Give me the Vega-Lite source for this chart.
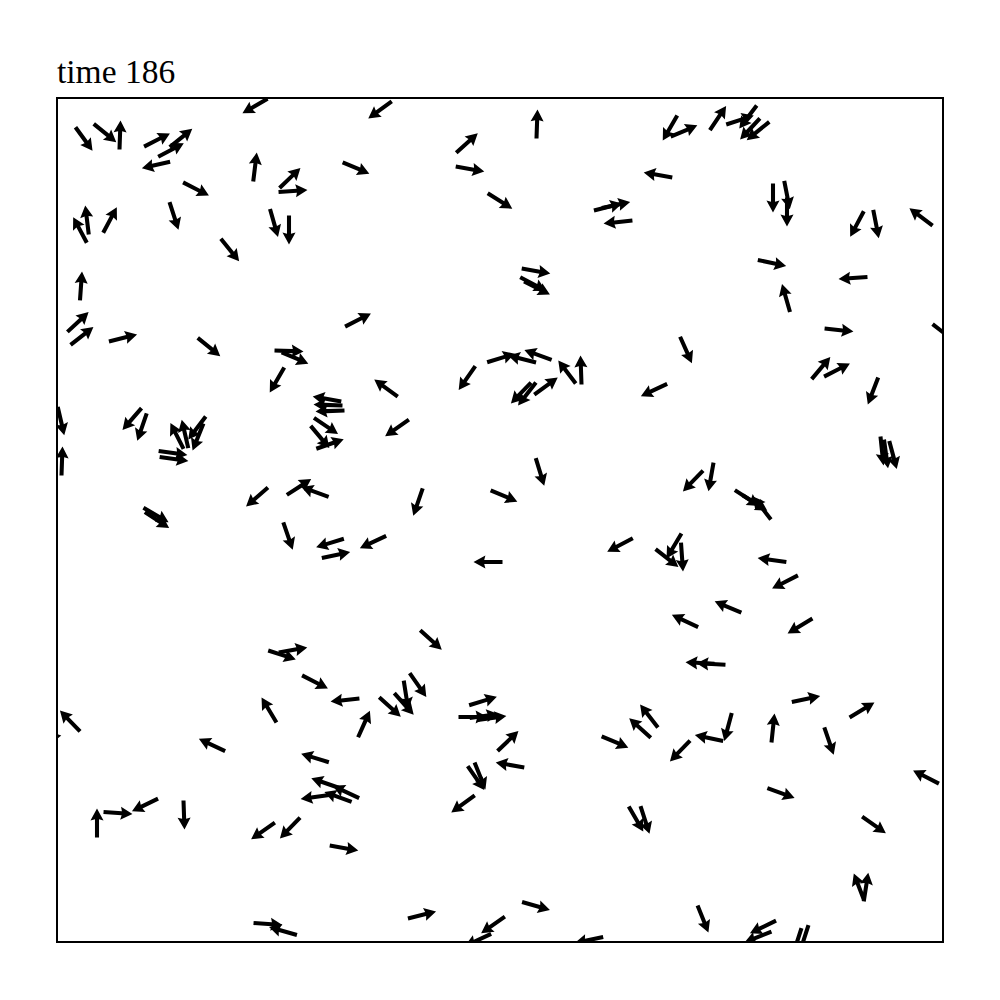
{
"$schema": "https://vega.github.io/schema/vega-lite/v6.json",
"width": 886, "height": 844,
"autosize": "none",
"padding": {"left": 57, "top": 98, "right": 57, "bottom": 58},
"background": "white",
"title": {"text": "time 186", "anchor": "start", "frame": "group", "font": "Liberation Serif", "fontSize": 33.5, "fontWeight": "normal", "color": "black", "baseline": "bottom", "offset": 7, "dy": 32},
"config": {"view": {"stroke": "black", "strokeWidth": 2}},
"data": {"values": [
{"x":198,"y":836,"angle":150},{"x":27,"y":803,"angle":54},{"x":48,"y":809,"angle":39},{"x":63,"y":807,"angle":-88},{"x":100,"y":802,"angle":-27},{"x":124,"y":804,"angle":-39},{"x":114,"y":792,"angle":-28},{"x":99,"y":777,"angle":167},{"x":198,"y":775,"angle":-83},{"x":139,"y":753,"angle":27},
{"x":117,"y":726,"angle":72},{"x":23,"y":712,"angle":-118},{"x":30,"y":722,"angle":-97},{"x":53,"y":722,"angle":-62},{"x":173,"y":692,"angle":51},{"x":217,"y":719,"angle":74},{"x":24,"y":656,"angle":-86},{"x":21,"y":620,"angle":-43},{"x":25,"y":606,"angle":-38},{"x":66,"y":604,"angle":-14},
{"x":152,"y":595,"angle":39},{"x":323,"y":832,"angle":144},{"x":410,"y":799,"angle":-42},{"x":299,"y":774,"angle":23},{"x":413,"y":773,"angle":10},{"x":443,"y":741,"angle":32},{"x":233,"y":764,"angle":-44},{"x":236,"y":751,"angle":-4},{"x":232,"y":712,"angle":90},{"x":301,"y":622,"angle":-27},
{"x":232,"y":591,"angle":2},{"x":238,"y":584,"angle":23},{"x":220,"y":562,"angle":120},{"x":410,"y":564,"angle":125},{"x":329,"y":554,"angle":-144},{"x":480,"y":818,"angle":-88},{"x":613,"y":814,"angle":120},{"x":627,"y":811,"angle":-23},{"x":661,"y":824,"angle":-56},{"x":601,"y":767,"angle":-170},
{"x":551,"y":735,"angle":-14},{"x":559,"y":737,"angle":-12},{"x":561,"y":720,"angle":174},{"x":479,"y":671,"angle":10},{"x":476,"y":658,"angle":28},{"x":480,"y":654,"angle":27},{"x":629,"y":592,"angle":66},{"x":444,"y":584,"angle":-17},{"x":465,"y":583,"angle":-166},{"x":481,"y":587,"angle":-160},
{"x":510,"y":570,"angle":-127},{"x":524,"y":572,"angle":-92},{"x":489,"y":556,"angle":-36},{"x":464,"y":549,"angle":134},{"x":470,"y":548,"angle":128},{"x":597,"y":552,"angle":155},{"x":683,"y":822,"angle":-18},{"x":691,"y":825,"angle":127},{"x":693,"y":813,"angle":133},{"x":701,"y":811,"angle":141},
{"x":716,"y":744,"angle":90},{"x":730,"y":747,"angle":79},{"x":730,"y":730,"angle":90},{"x":800,"y":718,"angle":118},{"x":819,"y":718,"angle":79},{"x":864,"y":725,"angle":-143},{"x":715,"y":679,"angle":12},{"x":796,"y":664,"angle":176},{"x":729,"y":644,"angle":-106},{"x":782,"y":612,"angle":6},
{"x":887,"y":609,"angle":38},{"x":764,"y":574,"angle":-50},{"x":780,"y":572,"angle":-27},{"x":816,"y":551,"angle":111},{"x":75,"y":523,"angle":131},{"x":85,"y":515,"angle":109},{"x":4,"y":521,"angle":77},{"x":5,"y":481,"angle":-88},{"x":140,"y":514,"angle":127},{"x":141,"y":505,"angle":112},
{"x":120,"y":506,"angle":-117},{"x":128,"y":508,"angle":-103},{"x":116,"y":489,"angle":8},{"x":117,"y":483,"angle":8},{"x":200,"y":445,"angle":139},{"x":99,"y":427,"angle":30},{"x":100,"y":422,"angle":33},{"x":231,"y":406,"angle":71},{"x":225,"y":287,"angle":18},{"x":236,"y":292,"angle":-10},
{"x":270,"y":543,"angle":-170},{"x":273,"y":531,"angle":178},{"x":271,"y":537,"angle":-178},{"x":269,"y":516,"angle":34},{"x":263,"y":505,"angle":50},{"x":273,"y":498,"angle":-19},{"x":340,"y":514,"angle":145},{"x":361,"y":440,"angle":109},{"x":242,"y":455,"angle":-33},{"x":258,"y":450,"angle":-160},
{"x":273,"y":399,"angle":163},{"x":279,"y":387,"angle":-12},{"x":316,"y":400,"angle":155},{"x":431,"y":380,"angle":180},{"x":447,"y":446,"angle":23},{"x":374,"y":302,"angle":42},{"x":483,"y":470,"angle":73},{"x":636,"y":461,"angle":134},{"x":654,"y":465,"angle":100},{"x":563,"y":397,"angle":152},
{"x":617,"y":396,"angle":121},{"x":610,"y":384,"angle":38},{"x":625,"y":385,"angle":86},{"x":628,"y":321,"angle":-155},{"x":671,"y":335,"angle":-157},{"x":643,"y":279,"angle":-177},{"x":654,"y":278,"angle":-177},{"x":825,"y":491,"angle":84},{"x":829,"y":488,"angle":82},{"x":836,"y":487,"angle":75},
{"x":690,"y":444,"angle":33},{"x":698,"y":439,"angle":32},{"x":705,"y":434,"angle":-128},{"x":715,"y":382,"angle":-172},{"x":728,"y":360,"angle":153},{"x":743,"y":316,"angle":149},{"x":13,"y":221,"angle":-134},{"x":-10,"y":204,"angle":-10},{"x":155,"y":197,"angle":-155},{"x":212,"y":232,"angle":-121},
{"x":40,"y":119,"angle":-90},{"x":61,"y":129,"angle":4},{"x":88,"y":137,"angle":154},{"x":127,"y":127,"angle":88},{"x":206,"y":111,"angle":145},{"x":233,"y":114,"angle":134},{"x":211,"y":18,"angle":4},{"x":226,"y":11,"angle":-164},{"x":258,"y":260,"angle":27},{"x":288,"y":242,"angle":174},
{"x":307,"y":218,"angle":-66},{"x":333,"y":235,"angle":42},{"x":347,"y":238,"angle":48},{"x":349,"y":247,"angle":81},{"x":361,"y":257,"angle":55},{"x":426,"y":241,"angle":-17},{"x":416,"y":225,"angle":0},{"x":427,"y":226,"angle":-8},{"x":435,"y":224,"angle":-8},{"x":451,"y":201,"angle":-44},
{"x":453,"y":177,"angle":-170},{"x":423,"y":166,"angle":68},{"x":419,"y":164,"angle":55},{"x":406,"y":138,"angle":144},{"x":258,"y":184,"angle":-163},{"x":281,"y":145,"angle":-160},{"x":289,"y":150,"angle":-155},{"x":268,"y":159,"angle":-161},{"x":258,"y":145,"angle":172},{"x":287,"y":94,"angle":10},
{"x":365,"y":27,"angle":-14},{"x":436,"y":17,"angle":145},{"x":421,"y":2,"angle":155},{"x":558,"y":200,"angle":23},{"x":583,"y":214,"angle":-138},{"x":592,"y":226,"angle":-128},{"x":623,"y":191,"angle":134},{"x":652,"y":204,"angle":-168},{"x":671,"y":215,"angle":105},{"x":579,"y":123,"angle":60},
{"x":588,"y":122,"angle":72},{"x":479,"y":36,"angle":16},{"x":646,"y":23,"angle":68},{"x":532,"y":2,"angle":168},{"x":749,"y":243,"angle":-12},{"x":805,"y":232,"angle":-31},{"x":716,"y":214,"angle":-84},{"x":772,"y":201,"angle":71},{"x":869,"y":165,"angle":-153},{"x":724,"y":149,"angle":20},
{"x":817,"y":117,"angle":35},{"x":802,"y":55,"angle":-111},{"x":809,"y":55,"angle":-81},{"x":706,"y":15,"angle":154},{"x":701,"y":5,"angle":158},{"x":747,"y":3,"angle":108},{"x":740,"y":0,"angle":108}
]},
"mark": {"type": "point", "shape": "M-1,-0.14L0.26,-0.14L0.18,-0.45L1,0L0.18,0.45L0.26,0.14L-1,0.14Z", "filled": true, "color": "black", "opacity": 1, "size": 841, "clip": true, "strokeWidth": 0},
"encoding": {
"x": {"field": "x", "type": "quantitative", "scale": {"domain": [0, 886], "nice": false, "zero": false}, "axis": null},
"y": {"field": "y", "type": "quantitative", "scale": {"domain": [0, 844], "nice": false, "zero": false}, "axis": null},
"angle": {"field": "angle", "type": "quantitative", "scale": null}
}
}
